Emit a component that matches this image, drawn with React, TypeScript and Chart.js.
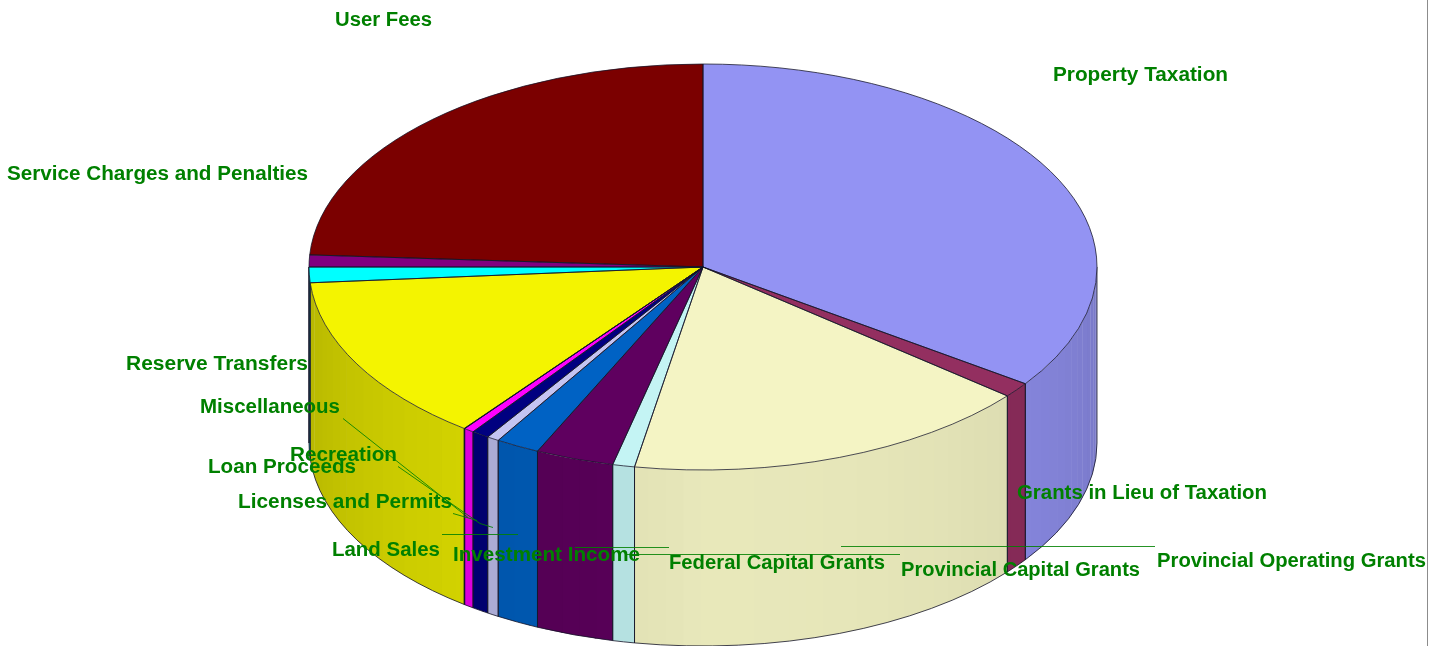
import React, { useEffect, useRef } from "react";
import { Chart, registerables } from "chart.js";

Chart.register(...registerables);

const categories = [
  "Property Taxation", "Grants in Lieu of Taxation", "Provincial Operating Grants",
  "Provincial Capital Grants", "Federal Capital Grants", "Land Sales",
  "Licenses and Permits", "Loan Proceeds", "Recreation", "Miscellaneous",
  "Reserve Transfers", "Investment Income", "Service Charges and Penalties", "User Fees",
];
const shares = [34.75, 1.2, 16.83, 0.9, 3.22, 1.8, 0.5, 0.72, 0.42, 0.02, 13.4, 1.24, 0.95, 24.05];
const sliceColors = [
  "#9393F3", "#932F60", "#F4F4C4", "#C4F4F4", "#5F005F", "#0062C4", "#C4C4F2",
  "#000080", "#FF00FF", "#008080", "#F4F400", "#00FFFF", "#800080", "#7B0000",
];
const labelSpots: [number, number][] = [
  [1053, 75], [1017, 493], [1157, 561], [901, 570], [669, 563], [332, 550], [238, 502],
  [208, 467], [290, 455], [200, 407], [126, 364], [453, 555], [7, 174], [335, 20],
];
const labelWidths = [175, 250, 269, 239, 216, 108, 214, 148, 107, 140, 182, 187, 301, 97];
const leaders: [number, number][][] = [
  [[841, 546], [1155, 546]],
  [[627, 554], [900, 554]],
  [[575, 547], [669, 547]],
  [[442, 534], [518, 534]],
  [[453, 513], [477, 520]],
  [[343, 418], [468, 517]],
  [[398, 466], [480, 523], [493, 527]],
];

const GEO = { cx: 703, cy: 267, rx: 394, ry: 203, depth: 176 };

function shade(hex: string, f: number) {
  const n = parseInt(hex.slice(1), 16);
  const c = (v: number) => Math.round(v * f);
  return `rgb(${c((n >> 16) & 255)},${c((n >> 8) & 255)},${c(n & 255)})`;
}

function wallFactor(theta: number) {
  const phi = (theta - Math.PI / 2) / (Math.PI / 2);
  return phi > 0 ? 0.95 - 0.21 * phi : 0.95 - 0.14 * phi * phi;
}

const pie3d = {
  id: "pie3d",
  beforeDatasetsDraw(chart: any) {
    const { ctx } = chart;
    const { cx, cy, rx, ry, depth } = GEO;
    const arcs = chart.getDatasetMeta(0).data;
    const step = 0.045;
    const px = (t: number) => cx + rx * Math.cos(t);
    const py = (t: number) => cy + ry * Math.sin(t);
    ctx.save();
    arcs.forEach((arc: any) => {
      const a = Math.max(arc.startAngle, 0);
      const b = Math.min(arc.endAngle, Math.PI);
      if (b <= a) return;
      const color = arc.options.backgroundColor;
      let t = a;
      while (t < b) {
        const next = Math.min(b, (Math.floor(t / step) + 1) * step);
        const over = Math.min(b, next + 0.004);
        ctx.beginPath();
        ctx.ellipse(cx, cy, rx, ry, 0, t, over);
        ctx.lineTo(px(over), py(over) + depth);
        ctx.ellipse(cx, cy + depth, rx, ry, 0, over, t, true);
        ctx.closePath();
        ctx.fillStyle = shade(color, wallFactor((t + next) / 2));
        ctx.fill();
        t = next + 1e-9;
      }
    });
    ctx.strokeStyle = "rgba(20,20,40,0.8)";
    ctx.lineWidth = 1;
    arcs.forEach((arc: any) => {
      const a = Math.max(arc.startAngle, 0);
      const b = Math.min(arc.endAngle, Math.PI);
      if (b <= a) return;
      ctx.beginPath();
      ctx.moveTo(px(a), py(a));
      ctx.lineTo(px(a), py(a) + depth);
      ctx.ellipse(cx, cy + depth, rx, ry, 0, a, b);
      ctx.lineTo(px(b), py(b));
      ctx.stroke();
    });
    ctx.restore();

    const first = arcs[0];
    ctx.save();
    ctx.translate(cx, cy);
    ctx.scale(rx / first.outerRadius, ry / first.outerRadius);
    ctx.translate(-first.x, -first.y);
  },
  afterDatasetsDraw(chart: any) {
    const { ctx } = chart;
    ctx.restore();
    const { cx, cy, rx, ry } = GEO;
    const arcs = chart.getDatasetMeta(0).data;
    ctx.save();
    ctx.strokeStyle = "rgba(20,20,40,0.85)";
    ctx.lineWidth = 0.9;
    arcs.forEach((arc: any) => {
      ctx.beginPath();
      ctx.moveTo(cx, cy);
      ctx.ellipse(cx, cy, rx, ry, 0, arc.startAngle, arc.endAngle);
      ctx.closePath();
      ctx.stroke();
    });

    ctx.strokeStyle = "#8c8c8c";
    ctx.lineWidth = 1;
    ctx.beginPath();
    ctx.moveTo(1427.5, 0);
    ctx.lineTo(1427.5, chart.height);
    ctx.stroke();

    ctx.strokeStyle = "rgba(0,128,0,0.85)";
    ctx.lineWidth = 1;
    leaders.forEach((pts) => {
      ctx.beginPath();
      pts.forEach(([x, y], i) => (i ? ctx.lineTo(x, y + 0.5) : ctx.moveTo(x, y + 0.5)));
      ctx.stroke();
    });

    ctx.fillStyle = "#008000";
    ctx.font = 'bold 20px "Liberation Sans"';
    ctx.textAlign = "left";
    ctx.textBaseline = "middle";
    chart.data.labels.forEach((label: string, i: number) => {
      const natural = ctx.measureText(label).width;
      ctx.save();
      ctx.translate(labelSpots[i][0], labelSpots[i][1]);
      ctx.scale(labelWidths[i] / natural, 1);
      ctx.fillText(label, 0, 0);
      ctx.restore();
    });
    ctx.restore();
  },
};

export default function App() {
  const ref = useRef<HTMLCanvasElement>(null);
  useEffect(() => {
    document.body.style.margin = "0";
    const chart = new Chart(ref.current!, {
      type: "pie",
      data: {
        labels: categories,
        datasets: [
          { data: shares, backgroundColor: sliceColors, borderWidth: 0, clip: false } as any,
        ],
      },
      options: {
        responsive: false,
        animation: false,
        events: [],
        layout: { padding: 0 },
        plugins: { legend: { display: false }, tooltip: { enabled: false } },
      },
      plugins: [pie3d],
    });
    return () => chart.destroy();
  }, []);
  return (
    <div style={{ width: 1445, height: 646, background: "#fff", overflow: "hidden" }}>
      <canvas ref={ref} width={1445} height={646} style={{ display: "block" }} />
    </div>
  );
}
